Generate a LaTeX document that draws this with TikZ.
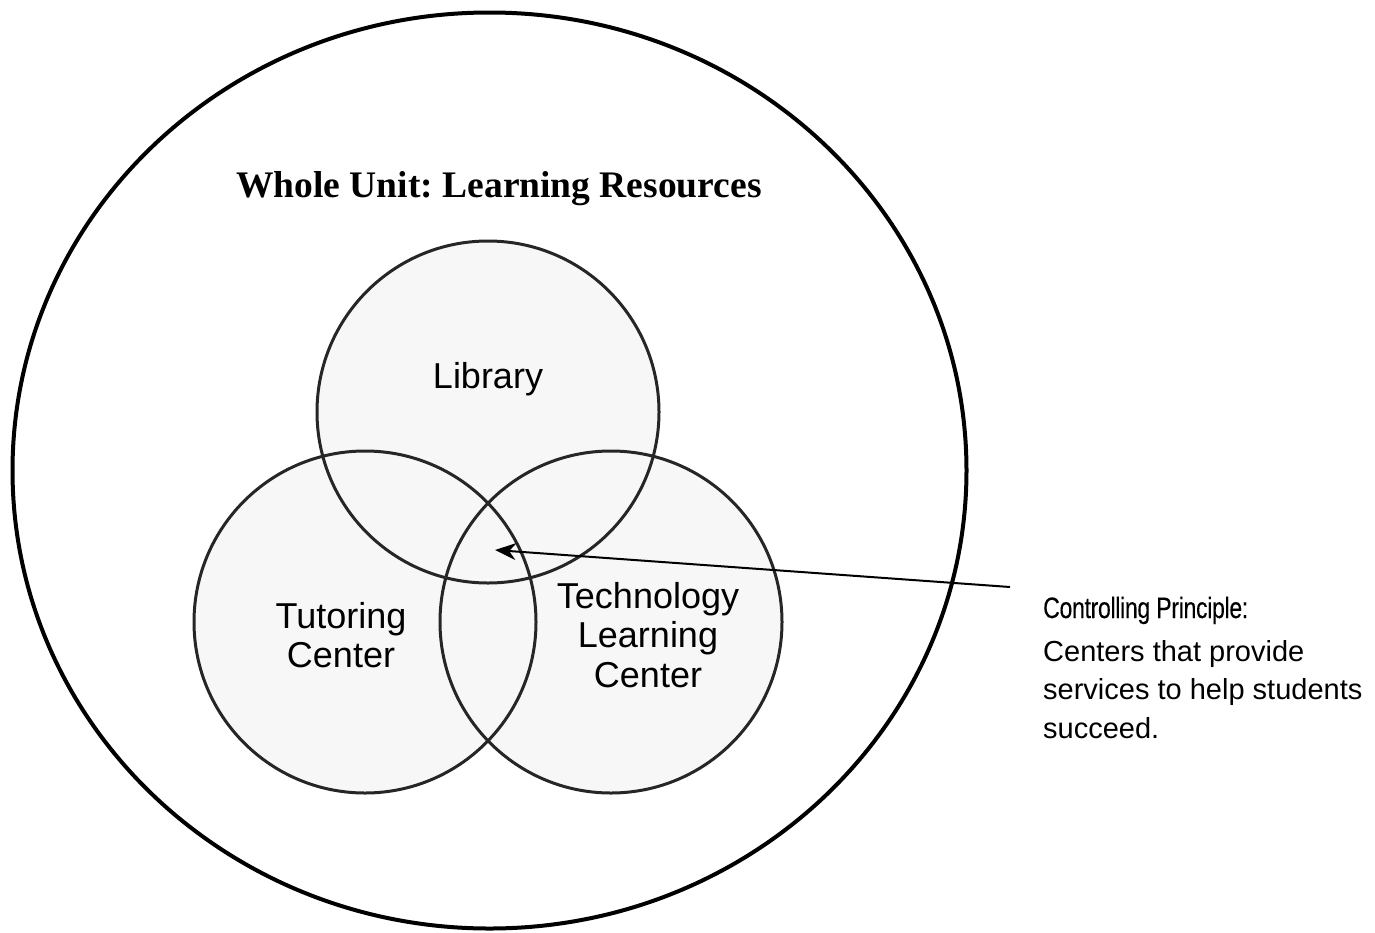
\documentclass[tikz,border=0pt]{standalone}
\usepackage{fontspec}
\setmainfont{Liberation Sans}
\newfontfamily\titlefont{Liberation Serif}
\newfontfamily\headfont[FakeStretch=0.78,LetterSpace=-1,FakeBold=0.2]{Liberation Sans}
\usetikzlibrary{shapes.geometric,arrows.meta}
\definecolor{ringgray}{HTML}{262626}
\definecolor{fillgray}{HTML}{F7F7F7}
\tikzset{
  outer/.style={draw=black,line width=4pt,ellipse,minimum width=954pt,minimum height=916pt,inner sep=0pt},
  ring/.style={circle,minimum size=342pt,inner sep=0pt},
  ringfill/.style={ring,fill=fillgray},
  ringline/.style={ring,draw=ringgray,line width=3pt},
  label/.style={align=center,font=\fontsize{36}{39.5}\selectfont,inner sep=0pt},
  pointer/.style={draw=black,line width=2pt,-{Stealth[length=21pt,width=17pt]}},
}
\begin{document}
\frenchspacing
\begin{tikzpicture}[x=1pt,y=-1pt]
\useasboundingbox (0,0) rectangle (1375,932);
\node[outer] (whole) at (489.5,470.5) {};
% fills
\node[ringfill] (libf) at (488,412) {};
\node[ringfill] (tutf) at (365,622) {};
\node[ringfill] (tecf) at (611,622) {};
% outlines
\node[ringline] (lib) at (488,412) {};
\node[ringline] (tut) at (365,622) {};
\node[ringline] (tec) at (611,622) {};
\node[anchor=base,inner sep=0pt,font=\titlefont\bfseries\fontsize{37.5}{40}\selectfont] (title) at (499,197) {Whole Unit: Learning Resources};
\node[label,anchor=base] (libt) at (488,388) {Library};
\node[label] (tutt) at (341,635) {Tutoring\\Center};
\node[label] (tect) at (648,635) {Technology\\Learning\\Center};
\node[anchor=base west,inner sep=0pt,font=\headfont\fontsize{29.5}{33}\selectfont] (head) at (1043,618) {Controlling Principle:};
\node[anchor=north west,inner sep=0pt,align=left,font=\fontsize{29}{38.7}\selectfont] (body) at (1043,640) {Centers that provide\\services to help students\\succeed.};
\coordinate (tail) at (1010,587);
\coordinate (tip) at (495,550);
\draw[pointer] (tail) -- (tip);
\end{tikzpicture}
\end{document}
